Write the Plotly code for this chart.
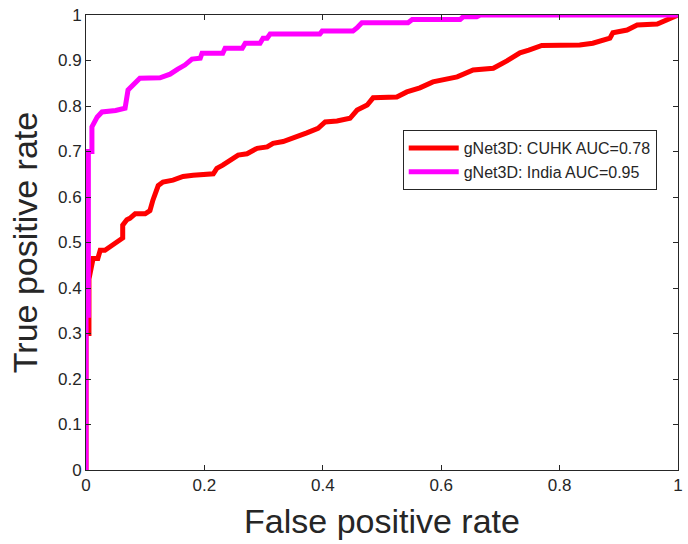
import plotly.graph_objects as go

# ROC curve points
cuhk_fpr = [0.0, 0.0, 0.005, 0.005, 0.012, 0.02, 0.024, 0.032, 0.04, 0.049, 0.057, 0.062, 0.062,
            0.069, 0.074, 0.083, 0.1, 0.108, 0.113, 0.122, 0.13, 0.147, 0.164, 0.181, 0.215, 0.221,
            0.231, 0.243, 0.257, 0.272, 0.289, 0.306, 0.316, 0.333, 0.356, 0.373, 0.392, 0.404,
            0.424, 0.446, 0.458, 0.475, 0.485, 0.525, 0.542, 0.564, 0.586, 0.627, 0.654, 0.688,
            0.711, 0.733, 0.748, 0.77, 0.834, 0.856, 0.885, 0.89, 0.914, 0.931, 0.965, 0.981, 1.0]
cuhk_tpr = [0.0, 0.30, 0.30, 0.42, 0.465, 0.465, 0.483, 0.483, 0.49, 0.499, 0.508, 0.51, 0.538,
            0.55, 0.553, 0.563, 0.563, 0.57, 0.593, 0.625, 0.633, 0.637, 0.645, 0.648, 0.651, 0.663,
            0.67, 0.681, 0.692, 0.695, 0.707, 0.71, 0.718, 0.722, 0.732, 0.741, 0.751, 0.765,
            0.767, 0.773, 0.791, 0.802, 0.818, 0.82, 0.831, 0.84, 0.853, 0.864, 0.879, 0.883,
            0.899, 0.917, 0.923, 0.933, 0.934, 0.938, 0.949, 0.961, 0.967, 0.978, 0.98, 0.99, 1.0]

india_fpr = [0.0, 0.0, 0.004, 0.004, 0.01, 0.01, 0.019, 0.027, 0.05, 0.066, 0.071, 0.079, 0.091,
             0.125, 0.142, 0.155, 0.167, 0.179, 0.193, 0.196, 0.231, 0.235, 0.264, 0.269, 0.294,
             0.299, 0.306, 0.311, 0.395, 0.399, 0.451, 0.458, 0.466, 0.544, 0.551, 0.632, 0.637,
             0.66, 0.666, 1.0]
india_tpr = [0.0, 0.34, 0.34, 0.70, 0.70, 0.754, 0.776, 0.787, 0.79, 0.795, 0.835, 0.846, 0.861,
             0.862, 0.87, 0.881, 0.89, 0.903, 0.905, 0.916, 0.916, 0.927, 0.927, 0.938, 0.938,
             0.949, 0.949, 0.958, 0.958, 0.965, 0.965, 0.972, 0.983, 0.983, 0.99, 0.99, 0.996,
             0.996, 1.0, 1.0]

names = ["gNet3D: CUHK AUC=0.78", "gNet3D: India AUC=0.95"]
ticks = [0, 0.2, 0.4, 0.6, 0.8, 1]
tick_text = ["0", "0.2", "0.4", "0.6", "0.8", "1"]
yticks = [0, 0.1, 0.2, 0.3, 0.4, 0.5, 0.6, 0.7, 0.8, 0.9, 1]
ytick_text = ["0", "0.1", "0.2", "0.3", "0.4", "0.5", "0.6", "0.7", "0.8", "0.9", "1"]

fig = go.Figure()
fig.add_trace(go.Scatter(x=cuhk_fpr, y=cuhk_tpr, mode="lines", name=names[0],
                         line=dict(color="#FF0000", width=5)))
fig.add_trace(go.Scatter(x=india_fpr, y=india_tpr, mode="lines", name=names[1],
                         line=dict(color="#FF00FF", width=5)))

FONT = "Liberation Sans, Arial, sans-serif"
axis_common = dict(showgrid=False, zeroline=False, showline=True, linecolor="#262626",
                   linewidth=1, mirror="ticks", ticks="inside", ticklen=5, tickcolor="#262626",
                   automargin=False,
                   tickfont=dict(family=FONT, size=17, color="#262626"))

fig.update_xaxes(range=[0, 1], tickvals=ticks, ticktext=tick_text,
                 title=dict(text="False positive rate", font=dict(family=FONT, size=34, color="#262626"),
                            standoff=14),
                 **axis_common)
fig.update_yaxes(range=[0, 1], tickvals=yticks, ticktext=ytick_text,
                 title=dict(text="True positive rate", font=dict(family=FONT, size=34, color="#262626"),
                            standoff=10),
                 **axis_common)

fig.update_layout(
    width=688, height=544,
    margin=dict(l=86, r=10, t=15, b=74),
    plot_bgcolor="white", paper_bgcolor="white",
    legend=dict(x=0.535, y=0.747, xanchor="left", yanchor="top",
                bordercolor="#262626", borderwidth=1, bgcolor="white",
                font=dict(family=FONT, size=16, color="#262626"),
                tracegroupgap=0, itemwidth=50),
    showlegend=True,
)

# remove the default page margin so the figure sits at the window's top-left corner
fig.write_html("out.html", config={"displayModeBar": False},
               post_script="document.body.style.margin='0';document.body.style.overflow='hidden';")
